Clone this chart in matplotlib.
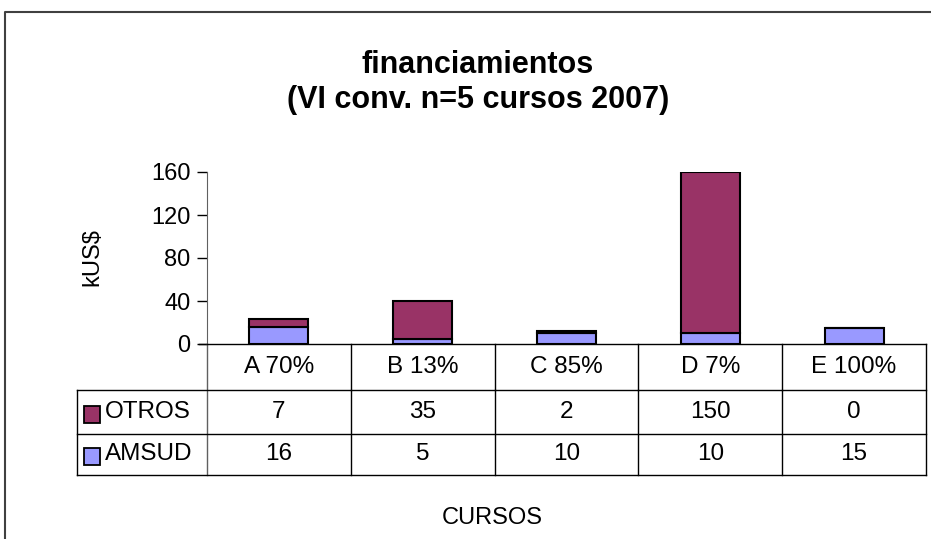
import numpy as np
import matplotlib
matplotlib.use('Agg')
import matplotlib.pyplot as plt
from matplotlib.lines import Line2D
from matplotlib.patches import Rectangle
import matplotlib.transforms as mtransforms

# datos
cursos = ['A 70%', 'B 13%', 'C 85%', 'D 7%', 'E 100%']
amsud = [16, 5, 10, 10, 15]
otros = [7, 35, 2, 150, 0]
series = ['OTROS', 'AMSUD']
colores = {'OTROS': '#993366', 'AMSUD': '#9999FF'}
yticks = [0, 40, 80, 120, 160]

plt.rcParams['font.family'] = ['Liberation Sans', 'DejaVu Sans']

W, H = 931, 539
fig = plt.figure(figsize=(W / 100, H / 100), dpi=100)

def px(x, y):  # pixeles (desde arriba) -> fraccion de figura
    return x / W, 1 - y / H

# marco exterior (solo izquierda y arriba visibles)
fig.add_artist(Line2D([5 / W, 5 / W, 1.0], [0.0, 1 - 12 / H, 1 - 12 / H],
                      transform=fig.transFigure, color='#404040', lw=1.5))

# area del grafico
left, top = px(207, 172)
right, bottom = px(926, 344)
ax = fig.add_axes([left, bottom, right - left, top - bottom])

x = np.arange(len(cursos))
ax.bar(x, amsud, width=0.41, color=colores['AMSUD'], edgecolor='black', linewidth=1.5)
ax.bar(x, otros, width=0.41, bottom=amsud, color=colores['OTROS'], edgecolor='black', linewidth=1.5)

ax.set_xlim(-0.5, len(cursos) - 0.5)
ax.set_ylim(0, 160)
ax.set_yticks(yticks)
ax.set_xticks([])
ax.tick_params(axis='y', labelsize=17, length=7, width=1, direction='out', pad=5)
for s in ['top', 'right']:
    ax.spines[s].set_visible(False)
ax.spines['left'].set_color('#606060')
ax.spines['bottom'].set_linewidth(1)

# tabla de datos debajo del eje
trans = mtransforms.blended_transform_factory(ax.transData, ax.transAxes)
pxu = 172.0  # alto del eje en pixeles
y_head = -(390 - 344) / pxu
y_row1 = -(434 - 344) / pxu
y_row2 = -(475 - 344) / pxu
x_tab = -0.5 - (207 - 77) / 144.0
n = len(cursos)

def linea(xs, ys, c='black'):
    ax.add_line(Line2D(xs, ys, transform=trans, color=c, lw=1, clip_on=False))

linea([-0.5 - 8 / 144.0, -0.5], [0, 0])
for i in range(n + 1):
    xb = i - 0.5
    linea([xb, xb], [0, y_row2 if i in (0, n) else y_head], '#606060' if i == 0 else 'black')
for yy in (y_head, y_row1, y_row2):
    linea([x_tab, n - 0.5], [yy, yy])
linea([x_tab, x_tab], [y_head, y_row2])
for i in range(1, n):
    linea([i - 0.5, i - 0.5], [y_head, y_row2])

for i, c in enumerate(cursos):
    ax.text(i, y_head / 2, c, transform=trans, ha='center', va='center', fontsize=17.5)

filas = [('OTROS', otros, (y_head + y_row1) / 2), ('AMSUD', amsud, (y_row1 + y_row2) / 2)]
for nombre, vals, yc in filas:
    for i, v in enumerate(vals):
        ax.text(i, yc, str(v), transform=trans, ha='center', va='center', fontsize=17.5)
    # cuadro de leyenda
    sq_w = 16 / 144.0
    sq_h = 17 / pxu
    ax.add_patch(Rectangle((x_tab + 7 / 144.0, yc - sq_h / 2 - 2 / pxu), sq_w, sq_h,
                           transform=trans, facecolor=colores[nombre], edgecolor='black',
                           lw=1.3, clip_on=False))
    ax.text(x_tab + 28 / 144.0, yc, nombre, transform=trans, ha='left', va='center', fontsize=17.5)

# textos
fig.text(*px(478, 65), 'financiamientos', ha='center', va='center', fontsize=22, fontweight='bold')
fig.text(*px(478, 100), '(VI conv. n=5 cursos 2007)', ha='center', va='center', fontsize=22, fontweight='bold')
fig.text(*px(92, 257), 'kUS$', ha='center', va='center', rotation=90, fontsize=17)
fig.text(*px(492, 518), 'CURSOS', ha='center', va='center', fontsize=17)

fig.savefig('out.png', dpi=100)
